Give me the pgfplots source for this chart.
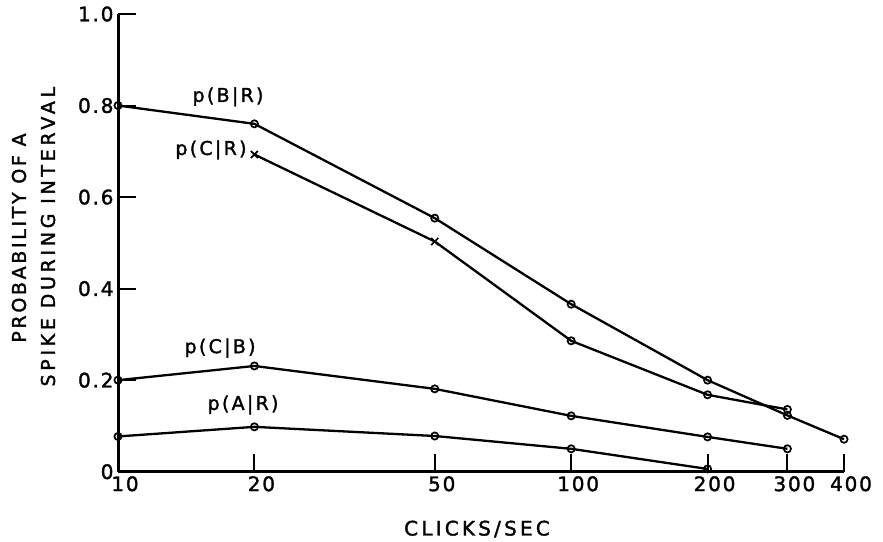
\documentclass[border=0pt]{standalone}
\usepackage{fontspec}
\setmainfont{DejaVu Sans}
\newfontfamily\tickfont{DejaVu Sans}[LetterSpace=9, FakeBold=1.6]
\newfontfamily\ylblfontA{DejaVu Sans}[LetterSpace=14, FakeBold=1.6]
\newfontfamily\ylblfontB{DejaVu Sans}[LetterSpace=19.5, FakeBold=1.6]
\newfontfamily\xlblfont{DejaVu Sans}[LetterSpace=16, FakeBold=1.6]
\newfontfamily\curvefont{DejaVu Sans}[LetterSpace=12, FakeBold=1.6]
\usepackage{pgfplots}
\pgfplotsset{compat=1.18}

% Firing probabilities against click rate
\pgfplotstableread{
x    y
10   0.800
20   0.760
50   0.554
100  0.366
200  0.200
300  0.123
400  0.071
}\BgivenR
\pgfplotstableread{
x    y
20   0.693
50   0.503
100  0.286
200  0.168
300  0.136
}\CgivenR
\pgfplotstableread{
x    y
10   0.200
20   0.231
50   0.181
100  0.122
200  0.076
300  0.050
}\CgivenB
\pgfplotstableread{
x    y
10   0.077
20   0.098
50   0.078
100  0.050
200  0.006
}\AgivenR

\begin{document}
\begin{tikzpicture}
\begin{axis}[
  scale only axis,
  width=726pt, height=457.7pt,
  xmode=log, log basis x=10,
  xmin=10, xmax=400, ymin=0, ymax=1,
  separate axis lines,
  axis x line*=bottom, axis y line*=left,
  axis line style={line width=3pt, -},
  x axis line style={-}, y axis line style={-},
  xtick={10,20,50,100,200,300,400},
  xticklabels={10,20,50,100,200,300,400},
  minor xtick={},
  ytick={0,0.2,0.4,0.6,0.8,1.0},
  yticklabels={0\hspace{9pt},0.2,0.4,0.6,0.8,1.0},
  tick align=inside,
  major tick length=18pt,
  tick style={line width=2pt, black},
  ticklabel style={font=\tickfont\fontsize{20}{23}\selectfont},
  xticklabel style={xshift=7pt, yshift=-1pt},
  yticklabel style={xshift=-1pt},
  clip=false,
  every axis plot/.append style={black, line width=2.3pt},
  mark options={solid, line width=1.7pt, fill=white},
]
\addplot[mark=o, mark size=3.6pt] table[x=x, y=y] {\BgivenR};
\addplot[mark=o, mark size=3.6pt, mark indices={3,4,5}] table[x=x, y=y] {\CgivenR};
\addplot[only marks, mark=x, mark size=5pt, mark indices={1,2}] table[x=x, y=y] {\CgivenR};
\addplot[mark=o, mark size=3.6pt] table[x=x, y=y] {\CgivenB};
\addplot[mark=o, mark size=3.6pt] table[x=x, y=y] {\AgivenR};

\begin{scope}[every node/.style={font=\curvefont\fontsize{19}{22}\selectfont, inner sep=0pt}]
\node at (axis cs:17.49,0.819) {p(B|R)};
\node at (axis cs:16.04,0.703) {p(C|R)};
\node at (axis cs:16.80,0.270) {p(C|B)};
\node at (axis cs:18.88,0.146) {p(A|R)};
\end{scope}
\end{axis}

% axis titles
\node[rotate=90, inner sep=0pt, font=\ylblfontA\fontsize{19}{22}\selectfont]
  at (-99pt,233.7pt) {PROBABILITY OF A};
\node[rotate=90, inner sep=0pt, font=\ylblfontB\fontsize{19}{22}\selectfont]
  at (-70pt,235pt) {SPIKE DURING INTERVAL};
\node[inner sep=0pt, font=\xlblfont\fontsize{20}{23}\selectfont]
  at (359pt,-57.3pt) {CLICKS/SEC};

\pgfresetboundingbox
\useasboundingbox (-118pt,-69.3pt) rectangle (765pt,471.7pt);
\end{tikzpicture}
\end{document}
